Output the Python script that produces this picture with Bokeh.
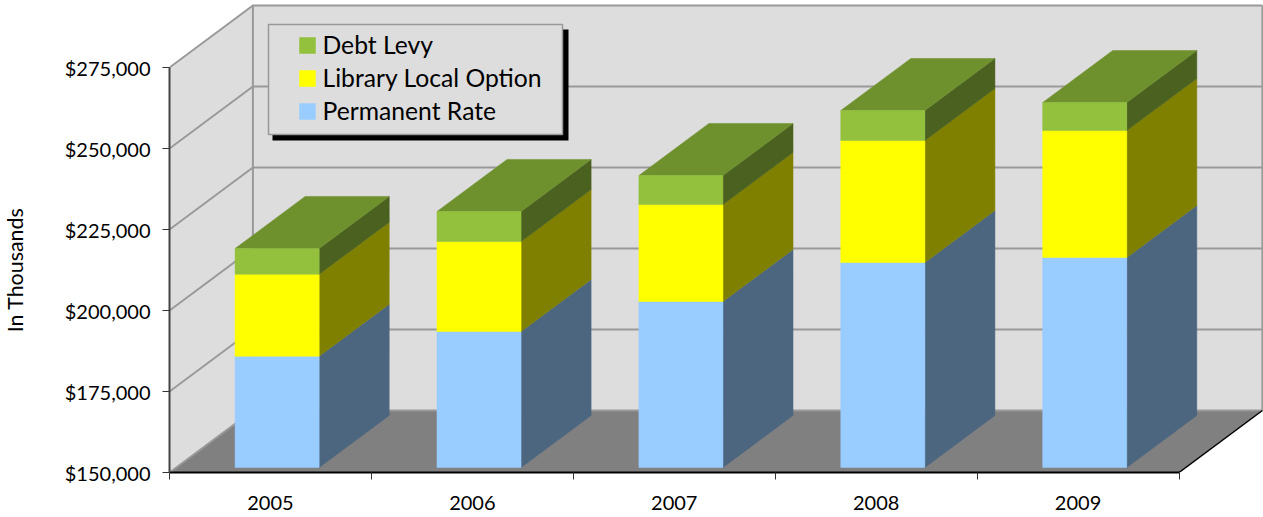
from bokeh.embed import file_html
from bokeh.resources import INLINE
from bokeh.plotting import figure
from bokeh.models import (Range1d, FixedTicker, NumeralTickFormatter, Legend, LegendItem,
                          BoxAnnotation, Label)

years = ["2005", "2006", "2007", "2008", "2009"]
permanent_rate = [184350, 191975, 201235, 213270, 214815]
library_option = [25310, 27775, 29935, 37655, 39185]
debt_levy = [7930, 9260, 8950, 9260, 8650]
y_ticks = [150000, 175000, 200000, 225000, 250000, 275000]

BASE = 150000
MAX = 275000
# frame geometry, 3-D projection
PX_PER_UNIT = 405 / 125000
SLOT = 201.9
DX = 83.4 / SLOT
DY = 62 / PX_PER_UNIT
D1, D2 = 0.08, 0.92
BAR = 0.4165
N = len(years)
W, H = 1263, 517
LEFT, BOTTOM = 169, 45
FONT = "Lato"

WALL, GRID, FLOOR = "#DDDDDD", "#999999", "#808080"
series = [
    ("Permanent Rate", "#99CCFF", "#4D6680", None),
    ("Library Local Option", "#FFFF00", "#808000", None),
    ("Debt Levy", "#93C13D", "#4A611F", "#6E912E"),
]


def proj(x, v, d):
    return x + d * DX, v + d * DY


def poly(pts):
    xs, ys = zip(*[proj(*pt) for pt in pts])
    return list(xs), list(ys)


p = figure(width=W, height=H, output_backend="svg", toolbar_location=None,
           x_range=Range1d(0, (W - LEFT) / SLOT),
           y_range=Range1d(BASE, BASE + (H - BOTTOM) / PX_PER_UNIT),
           min_border_left=LEFT, min_border_right=0, min_border_top=0, min_border_bottom=BOTTOM,
           outline_line_color=None, background_fill_color="white", border_fill_color="white")
p.grid.visible = False

# walls and floor
wall_x, wall_y = poly([(0, BASE, 0), (0, BASE, 1), (0, MAX, 1), (0, MAX, 0)])
p.patch(wall_x, wall_y, fill_color=WALL, line_color=None)
wall_x, wall_y = poly([(0, BASE, 1), (N, BASE, 1), (N, MAX, 1), (0, MAX, 1)])
p.patch(wall_x, wall_y, fill_color=WALL, line_color=None)
floor_x, floor_y = poly([(0, BASE, 0), (0, BASE, 1), (N, BASE, 1), (N, BASE, 0)])
p.patch(floor_x, floor_y, fill_color=FLOOR, line_color=None)

# grid lines on the walls
for t in y_ticks:
    gx, gy = poly([(0, t, 0), (0, t, 1), (N, t, 1)])
    p.line(gx, gy, line_color=GRID, line_width=2)
ex, ey = poly([(0, BASE, 1), (0, MAX, 1)])
p.line(ex, ey, line_color=GRID, line_width=2)
ex, ey = poly([(N, BASE, 1), (N, MAX, 1)])
p.line(ex, ey, line_color=GRID, line_width=2)
ex, ey = poly([(N, BASE, 0), (N, BASE, 1)])
p.line(ex, ey, line_color="black", line_width=1.5)

# bars
items = {}
bottoms = [BASE] * N
for (name, front, side, top), vals in zip(series, [permanent_rate, library_option, debt_levy]):
    tops = [b + (v - (BASE if b == BASE else 0)) for b, v in zip(bottoms, vals)]
    fx, fy, sx, sy, tx, ty = [], [], [], [], [], []
    for i in range(N):
        x0, x1 = i + 0.5 - BAR / 2, i + 0.5 + BAR / 2
        a, b = bottoms[i], tops[i]
        q = poly([(x0, a, D1), (x1, a, D1), (x1, b, D1), (x0, b, D1)])
        fx.append(q[0]); fy.append(q[1])
        q = poly([(x1, a, D1), (x1, a, D2), (x1, b, D2), (x1, b, D1)])
        sx.append(q[0]); sy.append(q[1])
        q = poly([(x0, b, D1), (x1, b, D1), (x1, b, D2), (x0, b, D2)])
        tx.append(q[0]); ty.append(q[1])
    p.patches(sx, sy, fill_color=side, line_color=side, line_width=0.5)
    if top:
        p.patches(tx, ty, fill_color=top, line_color=top, line_width=0.5)
    items[name] = p.patches(fx, fy, fill_color=front, line_color=front, line_width=0.5)
    bottoms = tops

# axes
p.xaxis.ticker = FixedTicker(ticks=[i + 0.5 for i in range(N)], minor_ticks=list(range(N + 1)))
p.xaxis.major_label_overrides = {i + 0.5: y for i, y in enumerate(years)}
p.xaxis.bounds = (0, N)
p.xaxis.major_tick_line_color = None
p.xaxis.minor_tick_in = 0
p.xaxis.minor_tick_out = 7
p.xaxis.minor_tick_line_color = "#333333"
p.xaxis.axis_line_color = "black"
p.xaxis.axis_line_width = 2
p.xaxis.major_label_text_font = FONT
p.xaxis.major_label_text_font_size = "20px"
p.xaxis.major_label_text_color = "black"
p.xaxis.major_label_standoff = 16

p.yaxis.ticker = FixedTicker(ticks=y_ticks)
p.yaxis.formatter = NumeralTickFormatter(format="$0,0")
p.yaxis.bounds = (BASE, MAX)
p.yaxis.major_tick_in = 0
p.yaxis.major_tick_out = 7
p.yaxis.major_tick_line_color = "#333333"
p.yaxis.minor_tick_line_color = None
p.yaxis.axis_line_color = "#444444"
p.yaxis.axis_line_width = 2
p.yaxis.major_label_text_font = FONT
p.yaxis.major_label_text_font_size = "20px"
p.yaxis.major_label_text_color = "black"
p.yaxis.major_label_standoff = 12

FH = H - BOTTOM
p.add_layout(Label(x=-21, y=FH - 269.5, x_units="screen", y_units="screen", text="In Thousands",
                   angle=90, angle_units="deg", text_align="center", text_baseline="middle",
                   text_font=FONT, text_font_size="21.4px", text_color="black"), "left")

# legend
p.add_layout(BoxAnnotation(left=272 - LEFT, right=568 - LEFT, top=FH - 29, bottom=FH - 140,
                           left_units="screen", right_units="screen", top_units="screen",
                           bottom_units="screen", fill_color="black", fill_alpha=1, line_color=None))
p.add_layout(BoxAnnotation(left=268 - LEFT, right=562 - LEFT, top=FH - 24, bottom=FH - 134,
                           left_units="screen", right_units="screen", top_units="screen",
                           bottom_units="screen", fill_color=WALL, fill_alpha=1,
                           line_color=GRID, line_width=1.5, line_alpha=1))
legend = Legend(items=[LegendItem(label=n, renderers=[items[n]]) for n in
                       ["Debt Levy", "Library Local Option", "Permanent Rate"]],
                location=(127.5, FH - 125), padding=12, margin=0, spacing=4,
                glyph_width=20, glyph_height=20, label_standoff=6, label_height=20,
                background_fill_alpha=0, border_line_color=None,
                label_text_font=FONT, label_text_font_size="24.7px", label_text_color="black")
p.add_layout(legend)

open("out.html", "w").write(file_html(p, INLINE))
